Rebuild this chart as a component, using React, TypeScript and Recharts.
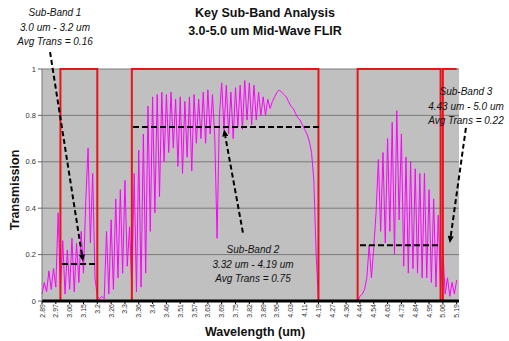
import React from "react"
import { LineChart, Line, XAxis, YAxis, CartesianGrid, ReferenceLine } from "recharts"

const FONT = "'Liberation Sans', Arial, sans-serif"

// labelled categories on the x axis (um), one every STEP samples
const xLabels = ["2.89","2.97","3.06","3.15","3.2","3.26","3.3","3.36","3.4","3.46","3.51","3.57","3.63","3.69","3.75","3.82","3.89","3.96","4.03","4.11","4.19","4.27","4.36","4.44","4.54","4.63","4.73","4.84","4.95","5.06","5.19"]
const STEP = 6
const yTicks = [0, 0.2, 0.4, 0.6, 0.8, 1]

// atmospheric transmission, one value per sample
const transmission = [
  0.03, 0.08, 0.04, 0.13, 0.05, 0.14, 0.06, 0.38, 0.05, 0.26, 0.03, 0.22, 0.05, 0.27, 0.04, 0.25, 0.08, 0.3, 0.12, 0.43,
  0.66, 0.25, 0.55, 0.1, 0.02, 0.01, 0.02, 0.01, 0.3, 0.03, 0.35, 0.05, 0.44, 0.1, 0.48, 0.12, 0.52, 0.15, 0.32, 0.05,
  0.55, 0.04, 0.65, 0.06, 0.72, 0.12, 0.84, 0.3, 0.88, 0.38, 0.89, 0.45, 0.9, 0.6, 0.89, 0.64, 0.9, 0.66, 0.87, 0.58,
  0.88, 0.55, 0.86, 0.62, 0.88, 0.56, 0.89, 0.68, 0.87, 0.7, 0.9, 0.68, 0.91, 0.72, 0.89, 0.7, 0.27, 0.8, 0.94, 0.74,
  0.93, 0.72, 0.9, 0.7, 0.92, 0.75, 0.93, 0.74, 0.95, 0.78, 0.94, 0.76, 0.93, 0.78, 0.9, 0.8, 0.88, 0.8, 0.87, 0.83,
  0.86, 0.88, 0.9, 0.91, 0.9, 0.89, 0.88, 0.86, 0.84, 0.83, 0.81, 0.79, 0.78, 0.76, 0.74, 0.72, 0.69, 0.64, 0.52, 0.2,
  0, 0, 0, 0, 0, 0, 0, 0, 0, 0, 0, 0, 0, 0, 0, 0, 0, 0, 0.02, 0.03,
  0.05, 0.1, 0.24, 0.1, 0.23, 0.38, 0.61, 0.3, 0.64, 0.25, 0.7, 0.3, 0.77, 0.2, 0.82, 0.35, 0.72, 0.15, 0.62, 0.12,
  0.6, 0.14, 0.57, 0.12, 0.55, 0.1, 0.55, 0.1, 0.48, 0.08, 0.44, 0.06, 0.37, 0.05, 0.22, 0.03, 0.1, 0.02, 0.08, 0.03,
  0.09,
]

// sub-band windows as [start, end) sample index
const bandWindows = [[8, 24], [39, 120], [137, 173], [174, 181]]

// dashed average-transmission lines
const avgFrom = [8.7, 39.5, 138]
const avgTo = [24.3, 120.7, 172]
const avgLevel = [0.16, 0.75, 0.24]

// callout arrows: tail -> head, in (sample, transmission)
const arrowTail = [[3.5, 1.073], [87.2, 0.295], [184, 0.746]]
const arrowHead = [[17.8, 0.17], [79, 0.74], [177, 0.25]]

const notes = [
  { lines: ["Sub-Band 1", "3.0 um - 3.2 um", "Avg Trans = 0.16"], left: 55, top: 6 },
  { lines: ["Sub-Band 2", "3.32 um - 4.19 um", "Avg Trans = 0.75"], left: 253, top: 243 },
  { lines: ["Sub-Band 3", "4.43 um - 5.0 um", "Avg Trans = 0.22"], left: 466, top: 85 },
]

const data = transmission.map((t, i) => ({
  i,
  t,
  band: bandWindows.some(([a, b]) => i >= a && i < b) ? 1 : 0,
}))

const xTicks = xLabels.map((_, k) => k * STEP)

const XTick = ({ x, y, payload }: any) => (
  <text x={x} y={y - 2} transform={`rotate(-90, ${x}, ${y - 2})`} textAnchor="end" dominantBaseline="central"
    fontSize={7} fill="#333" fontFamily={FONT}>
    {xLabels[Math.round(payload.value / STEP)]}
  </text>
)

const Arrow = (props: any) => {
  const { x1, y1, x2, y2 } = props
  const dx = x2 - x1, dy = y2 - y1
  const len = Math.sqrt(dx * dx + dy * dy) || 1
  const ux = dx / len, uy = dy / len
  const bx = x2 - ux * 7, by = y2 - uy * 7
  return (
    <g>
      <line x1={x1} y1={y1} x2={bx} y2={by} stroke="#000" strokeWidth={2} strokeDasharray="5 3" />
      <polygon points={`${x2},${y2} ${bx - uy * 3},${by + ux * 3} ${bx + uy * 3},${by - ux * 3}`} fill="#000" />
    </g>
  )
}

export default function App() {
  return (
    <div style={{ position: "absolute", left: 0, top: 0, width: 509, height: 341, background: "#fff", fontFamily: FONT, color: "#111" }}>
      <LineChart width={509} height={341} data={data} margin={{ top: 69, right: 50, bottom: 10, left: 12 }}>
        <CartesianGrid vertical={false} fill="#c0c0c0" stroke="#7a7a7a" />
        <XAxis type="number" dataKey="i" domain={[0, 181]} ticks={xTicks} interval={0} height={30}
          tick={<XTick />} tickSize={3} tickLine={{ stroke: "#000" }} axisLine={{ stroke: "#000", strokeWidth: 3 }} />
        <YAxis domain={[0, 1]} ticks={yTicks} width={30} tickSize={4} tickMargin={2}
          tick={{ fontSize: 7.5, fill: "#333", fontFamily: FONT }} tickLine={{ stroke: "#666" }} axisLine={{ stroke: "#777" }} />
        <Line dataKey="t" stroke="#ff00ff" strokeWidth={1} dot={false} isAnimationActive={false} />
        <Line dataKey="band" type="stepAfter" stroke="#e8141c" strokeWidth={2} dot={false} isAnimationActive={false} />
        {avgLevel.map((v, k) => (
          <ReferenceLine key={"avg" + k} segment={[{ x: avgFrom[k], y: v }, { x: avgTo[k], y: v }]}
            stroke="#000" strokeWidth={2} strokeDasharray="6 3" ifOverflow="visible" />
        ))}
        {arrowTail.map((p, k) => (
          <ReferenceLine key={"arr" + k} segment={[{ x: p[0], y: p[1] }, { x: arrowHead[k][0], y: arrowHead[k][1] }]}
            ifOverflow="visible" shape={Arrow} />
        ))}
      </LineChart>

      <div style={{ position: "absolute", left: 265, top: 5, transform: "translateX(-50%)", textAlign: "center", fontWeight: 700, fontSize: 12.5, lineHeight: "17.5px", whiteSpace: "nowrap" }}>
        <div>Key Sub-Band Analysis</div>
        <div>3.0-5.0 um Mid-Wave FLIR</div>
      </div>
      <div style={{ position: "absolute", left: 15, top: 190, transform: "translate(-50%, -50%) rotate(-90deg)", fontWeight: 700, fontSize: 12.5, whiteSpace: "nowrap" }}>
        Transmission
      </div>
      <div style={{ position: "absolute", left: 255, top: 332, transform: "translate(-50%, -50%)", fontWeight: 700, fontSize: 12.5, whiteSpace: "nowrap" }}>
        Wavelength (um)
      </div>
      {notes.map(n => (
        <div key={n.lines[0]} style={{ position: "absolute", left: n.left, top: n.top, transform: "translateX(-50%)", textAlign: "center", fontStyle: "italic", fontSize: 10, lineHeight: "14.5px", whiteSpace: "nowrap" }}>
          {n.lines.map(l => <div key={l}>{l}</div>)}
        </div>
      ))}
    </div>
  )
}
